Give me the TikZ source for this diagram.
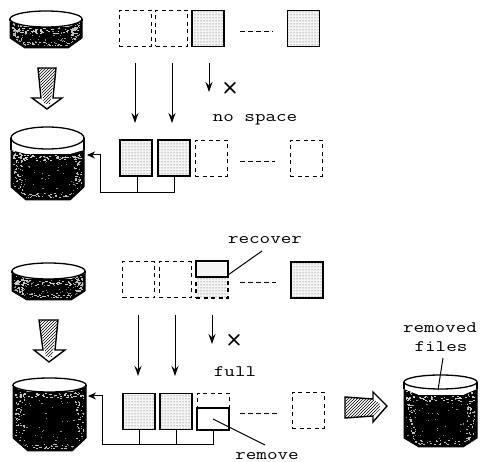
\documentclass[tikz,border=0pt]{standalone}
\usepackage{fontspec}
\usepackage{graphicx}
\usetikzlibrary{arrows.meta,patterns,calc}
\newcommand{\widetxt}[1]{\scalebox{1.28}[1]{#1}}
\tikzset{
  x=1pt,y=-1pt,
  fbox/.style={minimum width=32pt,minimum height=36pt,inner sep=0pt,outer sep=0pt},
  fullbox/.style={fbox,draw,line width=1.6pt,pattern=dots,pattern color=black!70,preaction={fill=black!4}},
  gonebox/.style={fbox,draw,line width=1pt,dash pattern=on 4pt off 3.5pt},
  halfbox/.style={minimum width=32pt,minimum height=16pt,inner sep=0pt,outer sep=0pt,draw,line width=1.5pt},
  cut/.style={line width=0.9pt,dash pattern=on 4.5pt off 3.5pt},
  flow/.style={line width=1pt,-{Stealth[length=10pt,width=7pt]}},
  pipe/.style={line width=1pt},
  lead/.style={line width=1pt},
  bigarrow/.style={draw,line width=1.4pt,fill=white,line join=miter},
  hatchfill/.style={pattern=north east lines,pattern color=black},
  lab/.style={font=\ttfamily\fontsize{16}{16}\selectfont,inner sep=0pt},
  cross/.style={font=\sffamily\bfseries\fontsize{21}{21}\selectfont,inner sep=0pt}
}
% x1 x2 cy ry bandside bandcentre sidebottom bottom noise
\newcommand{\drum}[9]{%
  \pgfmathsetmacro{\drumw}{#2-#1}%
  \fill[black,draw=black,line width=1pt,line join=round] (#1,#3) -- (#1,#7) -- ({#1+15},#8) -- ({#2-14},#8) -- (#2,#7) -- (#2,#3) -- cycle;
  \begin{scope}
    \clip ({#1+2},#5) -- ({#1+2},{#7-1}) -- ({#1+16},{#8-2}) -- ({#2-15},{#8-2}) -- ({#2-2},{#7-1}) -- ({#2-2},#5) -- cycle;
    \foreach \i in {1,...,#9}{
      \pgfmathsetmacro{\px}{#1+2+rnd*9}\pgfmathsetmacro{\py}{#5+rnd*(#8-#5)}
      \fill[black!25] (\px,\py) rectangle ++(1.4,1.2);
      \pgfmathsetmacro{\px}{#2-2-rnd*9}\pgfmathsetmacro{\py}{#5+rnd*(#8-#5)}
      \fill[black!25] (\px,\py) rectangle ++(1.4,1.2);
      \pgfmathsetmacro{\px}{#1+rnd*\drumw}\pgfmathsetmacro{\py}{#8-2-rnd*5}
      \fill[black!25] (\px,\py) rectangle ++(1.6,1);
      \pgfmathsetmacro{\px}{#1+rnd*\drumw}\pgfmathsetmacro{\py}{#6+1+rnd*5}
      \fill[black!20] (\px,\py) rectangle ++(1.8,1);
      \pgfmathsetmacro{\px}{#1+rnd*\drumw}\pgfmathsetmacro{\py}{#6+rnd*(#8-#6)}
      \fill[black!45] (\px,\py) rectangle ++(1.2,0.8);
    }
  \end{scope}
  \fill[white] (#1,#3) -- (#1,#5) -- ({#1+15},#6) -- ({#2-14},#6) -- (#2,#5) -- (#2,#3) -- cycle;
  \draw[line width=1.3pt] (#1,#3) -- (#1,#5) (#2,#3) -- (#2,#5);
  \draw[line width=1.3pt,fill=white] ({(#1+#2)/2},#3) ellipse ({(#2-#1)/2} and #4);
}
\begin{document}
\begin{tikzpicture}
\useasboundingbox (0,0) rectangle (480,462);
\pgfmathsetseed{4242}
% drums
\drum{10}{82}{19}{8}{21}{27}{38}{48}{70}
\drum{11}{84}{138}{11}{150}{154}{187}{200}{60}
\drum{12}{85}{271}{8}{273}{279}{291}{300}{70}
\drum{13}{86}{385}{7}{386}{392}{438}{451}{60}
\drum{404}{477}{382}{7}{389}{395}{438}{447}{50}
% big arrows
\path[bigarrow] (38,68) -- (56,68) -- (53,98) -- (62,98) -- (47,109) -- (32,98) -- (41,98) -- cycle;
\path[hatchfill] (38,68) -- (56,68) -- (50,104) -- (44,104) -- cycle;
\path[bigarrow] (39,320) -- (58,320) -- (55,350) -- (65,350) -- (49,362) -- (34,350) -- (43,350) -- cycle;
\path[hatchfill] (39,320) -- (58,320) -- (52,357) -- (46,357) -- cycle;
\path[bigarrow] (345,397) -- (373,399) -- (373,392) -- (387,406) -- (373,422) -- (373,416) -- (345,418) -- cycle;
\path[hatchfill] (345,397) -- (373,399) -- (380,404) -- (380,409) -- (373,416) -- (345,418) -- cycle;
% top group
\node[gonebox] (a1) at (135,28.5) {};
\node[gonebox] (a2) at (171.5,28.5) {};
\node[fullbox] (a3) at (208,28.5) {};
\node[fullbox] (a4) at (303.5,28.5) {};
\draw[cut] (240,31) -- (273,31);
\node[fullbox] (b1) at (136,158) {};
\node[fullbox] (b2) at (174,158) {};
\node[gonebox] (b3) at (211,158.5) {};
\node[gonebox] (b4) at (306,158.5) {};
\draw[cut] (240,161) -- (275,161);
\coordinate (a1f) at (135,63); \coordinate (a1t) at (135,123);
\coordinate (a2f) at (172,63); \coordinate (a2t) at (172,123);
\coordinate (a3f) at (209,63); \coordinate (a3t) at (209,92);
\draw[flow] (a1f) -- (a1t);
\draw[flow] (a2f) -- (a2t);
\draw[flow] (a3f) -- (a3t);
\node[cross] (x1) at (230,88) {×};
\node[lab] (ns) at (255,120) {\widetxt{no space}};
\coordinate (busa) at (137,193);
\coordinate (busb) at (174,193);
\coordinate (busc) at (100,193);
\coordinate (buse) at (87,155);
\draw[pipe] (b1.south -| busa) -- (busa);
\draw[pipe] (b2.south -| busb) -- (busb);
\draw[pipe,-{Stealth[length=8pt,width=7pt]}] (busb) -- (busc) -- (busc |- buse) -- (buse);
% bottom group
\node[gonebox] (c1) at (138.5,280) {};
\node[gonebox] (c2) at (175,280) {};
\node[fbox,draw,line width=1.3pt,dash pattern=on 4pt off 3.5pt,pattern=dots,pattern color=black!70,preaction={fill=black!4}] (c3) at (212,280) {};
\node[halfbox,fill=black!4] (c3h) at (212,269) {};
\node[fullbox] (c4) at (307,280) {};
\draw[cut] (240,282) -- (276,282);
\node[fullbox] (d1) at (139,411.5) {};
\node[fullbox] (d2) at (176,411.5) {};
\node[gonebox] (d3) at (213,411.5) {};
\node[halfbox,minimum height=22pt,fill=white] (d3h) at (213,419) {};
\node[gonebox] (d4) at (308,410.5) {};
\draw[cut] (240,413) -- (277,413);
\coordinate (c1f) at (138,315); \coordinate (c1t) at (138,376);
\coordinate (c2f) at (175,315); \coordinate (c2t) at (175,376);
\coordinate (c3f) at (212,315); \coordinate (c3t) at (212,344);
\draw[flow] (c1f) -- (c1t);
\draw[flow] (c2f) -- (c2t);
\draw[flow] (c3f) -- (c3t);
\node[cross] (x2) at (234,340) {×};
\node[lab] (fl) at (235,372) {\widetxt{full}};
\node[lab] (rc) at (265,240) {\widetxt{recover}};
\node[lab] (rm) at (267,456) {\widetxt{remove}};
\node[lab] (rf1) at (440,328) {\widetxt{removed}};
\node[lab] (rf2) at (441,347) {\widetxt{files}};
\coordinate (rcend) at (228,275);
\coordinate (rcst) at (262,251);
\draw[lead] (rcst) -- (rcend);
\coordinate (rmst) at (213,419);
\coordinate (rmend) at (265,445);
\draw[lead] (rmst) -- (rmend);
\coordinate (rfst) at (443,358);
\coordinate (rfend) at (438,390);
\draw[lead] (rfst) -- (rfend);
\coordinate (busd) at (139,445);
\coordinate (busf) at (176,445);
\coordinate (busg) at (213,445);
\coordinate (bush) at (102,445);
\coordinate (busi) at (88,396);
\draw[pipe] (d1.south) -- (busd);
\draw[pipe] (d2.south) -- (busf);
\draw[pipe] (d3h.south) -- (busg);
\draw[pipe,-{Stealth[length=8pt,width=7pt]}] (busg) -- (bush) -- (bush |- busi) -- (busi);
\end{tikzpicture}
\end{document}
